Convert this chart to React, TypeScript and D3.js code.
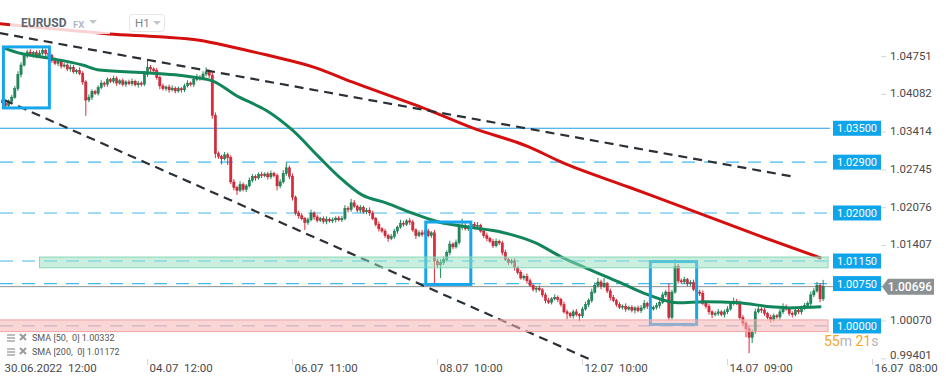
import React from 'react'
import * as d3 from 'd3'

// EURUSD H1, prices in pips above 1.0000 (450 -> 1.0450)
const firstOpen = 400
const closes = [
  395, 390, 398, 405, 420, 445, 462, 478, 485, 480, 484, 478, 483, 488, 482, 479, 470, 465, 468, 460,
  462, 455, 458, 450, 452, 447, 432, 400, 405, 415, 412, 422, 430, 428, 436, 433, 438, 430, 434, 428,
  432, 429, 433, 427, 430, 428, 445, 458, 455, 452, 440, 425, 420, 423, 418, 421, 416, 420, 418, 425,
  430, 428, 436, 440, 438, 446, 450, 444, 373, 305, 300, 296, 303, 298, 255, 245, 240, 250, 242, 248,
  258, 265, 262, 268, 266, 269, 264, 270, 266, 248, 255, 270, 280, 265, 228, 200, 195, 190, 183, 188,
  200, 193, 187, 190, 185, 189, 186, 188, 191, 188, 190, 208, 206, 218, 212, 205, 210, 202, 205, 200,
  190, 180, 172, 168, 160, 155, 158, 168, 175, 182, 180, 186, 184, 170, 160, 165, 162, 168, 160, 165,
  115, 108, 112, 118, 130, 145, 140, 148, 175, 178, 172, 176, 180, 176, 178, 168, 160, 155, 150, 142,
  150, 147, 130, 118, 112, 115, 103, 95, 85, 88, 80, 72, 65, 67, 64, 55, 45, 42, 48, 50,
  47, 38, 25, 22, 18, 25, 20, 18, 30, 38, 45, 60, 72, 78, 70, 75, 62, 50, 45, 38,
  33, 35, 30, 33, 28, 32, 27, 32, 40, 35, 30, 33, 36, 42, 55, 60, 15, 60, 105, 80,
  78, 82, 75, 77, 65, 60, 58, 40, 35, 25, 20, 22, 25, 20, 25, 30, 40, 44, 42, 15,
  5, -5, -20, -10, 25, 30, 28, 22, 15, 12, 18, 16, 25, 34, 30, 22, 20, 28, 25, 32,
  36, 40, 55, 62, 72, 48, 69.6,
]
const wickUp = [
  4, 3, 3, 4, 5, 6, 5, 6, 4, 5, 3, 4, 5, 4, 3, 4, 3, 5, 4, 3,
  4, 3, 5, 4, 3, 6, 4, 3, 5, 4, 3, 4, 5, 3, 4, 3, 5, 4, 3, 4,
  3, 4, 5, 3, 4, 3, 6, 12, 4, 3, 5, 3, 4, 3, 4, 5, 3, 4, 3, 4,
  5, 3, 4, 6, 4, 5, 8, 4, 6, 5, 4, 3, 5, 4, 4, 5, 3, 6, 4, 3,
  5, 4, 3, 4, 5, 3, 4, 5, 3, 4, 5, 6, 10, 4, 5, 3, 4, 5, 3, 4,
  6, 3, 4, 3, 4, 5, 3, 4, 3, 4, 5, 6, 4, 7, 5, 3, 4, 3, 4, 5,
  4, 3, 5, 3, 4, 3, 5, 4, 3, 6, 4, 3, 5, 4, 3, 4, 5, 3, 4, 3,
  5, 4, 6, 5, 4, 6, 3, 5, 6, 12, 4, 3, 5, 4, 6, 3, 4, 5, 3, 4,
  5, 3, 4, 5, 3, 4, 5, 3, 4, 3, 5, 4, 3, 4, 5, 3, 4, 5, 3, 6,
  4, 3, 5, 4, 3, 4, 5, 3, 4, 5, 4, 6, 5, 7, 4, 10, 3, 4, 5, 3,
  4, 3, 5, 3, 4, 3, 4, 5, 6, 3, 4, 3, 5, 4, 5, 4, 15, 4, 13, 5,
  4, 5, 3, 4, 5, 3, 4, 5, 3, 4, 3, 4, 5, 3, 4, 5, 4, 6, 4, 3,
  4, 3, 5, 4, 6, 5, 3, 4, 3, 5, 4, 3, 5, 6, 4, 3, 4, 5, 3, 4,
  5, 4, 6, 5, 6, 4, 12,
]
const wickDown = [
  4, 6, 3, 4, 3, 4, 5, 3, 4, 3, 5, 4, 3, 4, 5, 3, 4, 3, 5, 4,
  3, 4, 5, 3, 4, 3, 5, 28, 4, 5, 3, 4, 3, 5, 4, 3, 4, 5, 3, 4,
  5, 3, 4, 3, 5, 4, 3, 4, 5, 3, 4, 6, 3, 4, 5, 3, 4, 3, 5, 4,
  3, 4, 5, 3, 4, 3, 4, 5, 6, 8, 4, 10, 3, 13, 4, 5, 8, 3, 4, 5,
  3, 4, 5, 3, 4, 3, 5, 4, 3, 8, 4, 3, 4, 5, 6, 4, 5, 3, 13, 4,
  3, 5, 4, 3, 4, 5, 3, 4, 5, 3, 4, 3, 5, 4, 3, 4, 5, 3, 4, 5,
  3, 4, 5, 3, 4, 6, 3, 4, 5, 3, 4, 3, 5, 4, 6, 3, 4, 5, 3, 4,
  43, 6, 23, 4, 3, 5, 4, 3, 4, 5, 3, 4, 3, 5, 4, 3, 4, 5, 3, 4,
  3, 4, 5, 3, 4, 3, 5, 4, 3, 4, 5, 3, 4, 6, 3, 4, 5, 3, 4, 3,
  5, 4, 3, 10, 4, 5, 3, 10, 4, 3, 5, 4, 3, 4, 5, 3, 4, 5, 3, 4,
  3, 4, 5, 3, 4, 6, 3, 4, 3, 5, 4, 3, 4, 5, 3, 4, 5, 4, 3, 5,
  4, 3, 5, 4, 3, 4, 5, 3, 4, 5, 6, 3, 4, 3, 5, 4, 3, 4, 5, 4,
  6, 15, 28, 10, 4, 3, 5, 4, 3, 6, 4, 3, 5, 4, 3, 4, 5, 3, 4, 5,
  4, 3, 5, 4, 3, 6, 4,
]

// moving averages: [bar, pips]
const sma50 = [
  [0.6, 492], [5.5, 483], [15.2, 474], [25.9, 462], [31.4, 453], [47.6, 448], [57.3, 444],
  [63.8, 439], [68, 434], [76.7, 405], [79.9, 397], [85.4, 382], [93.9, 347], [102.6, 299],
  [109.1, 264], [116.5, 232], [124.3, 218], [132.7, 200], [141.4, 184], [151.1, 175],
  [161.8, 166], [172.8, 147], [181.2, 122], [189, 103], [199.7, 78], [209.4, 55], [219.1, 41],
  [227.8, 43], [238.5, 41], [249.2, 34], [254.7, 32], [265.4, 34],
]
const sma200 = [
  [-1, 535], [20.7, 524], [34.6, 517], [50.8, 512], [63.8, 506], [74.4, 494], [85.4, 480],
  [101.6, 457], [113.3, 432], [138.2, 382], [152.1, 351], [170.6, 317], [181.2, 290],
  [202.9, 246], [224.6, 202], [246, 158], [265.4, 120],
]

const dateTicks = [0, 47, 94, 141, 188, 235, 282]
const dateLabels = ['30.06.2022  12:00', '04.07  12:00', '06.07  11:00', '08.07  10:00', '12.07  10:00', '14.07  09:00', '16.07  08:00']
// 1.00738 sits under the last-price flag, so it is not listed
const priceTicks = [1.04751, 1.04082, 1.03414, 1.02745, 1.02076, 1.01407, 1.0007, 0.99401]

const levels = [1.035, 1.029, 1.02, 1.0115, 1.0075, 1.0]
const levelLabels = ['1.03500', '1.02900', '1.02000', '1.01150', '1.00750', '1.00000']
const lastPrice = 1.00696

// drawings: trend lines [bar, pips] pairs, boxes [bar0, bar1, pipsTop, pipsBottom]
const trendLines = [
  [[-1, 518.6], [257, 263.6]],
  [[0.6, 400], [191.6, -62]],
]
const boxes = [
  [0.3, 15.2, 494, 386],
  [137.2, 151.8, 184, 73.5],
  [210, 225, 114, 2.7],
]
const greenZone = [12, 267.6, 122, 103]
const redZone = [-1, 267.6, 10.7, -10]

const W = 949
const H = 385
const font = 'Roboto, sans-serif'

const pip = (v: number) => 1 + v / 10000

export default function App() {
  const x = d3.scaleLinear().domain([0, 282]).range([2.5, 872.5])
  const y = d3.scaleLinear().domain([0.99401, 1.04751]).range([359.8, 57.6])
  const yp = (v: number) => y(pip(v))

  const candles = closes.map((c, i) => {
    const o = i === 0 ? firstOpen : closes[i - 1]
    return { i, o, c, h: Math.max(o, c) + wickUp[i], l: Math.min(o, c) - wickDown[i] }
  })

  const line = d3
    .line<number[]>()
    .x((d) => x(d[0]))
    .y((d) => yp(d[1]))
    .curve(d3.curveMonotoneX)

  const zoneRect = (z: number[], fill: string, stroke: string, op: number) => (
    <rect
      x={x(z[0])}
      y={yp(z[2])}
      width={x(z[1]) - x(z[0])}
      height={yp(z[3]) - yp(z[2])}
      fill={fill}
      fillOpacity={op}
      stroke={stroke}
      strokeWidth={1}
    />
  )

  return (
    <svg width={W} height={H} style={{ position: 'absolute', left: 0, top: 0, background: '#fff' }} fontFamily={font}>
      {/* horizontal levels */}
      {levels.map((lv, k) => (
        <line
          key={'lv' + k}
          x1={0}
          x2={830}
          y1={y(lv)}
          y2={y(lv)}
          stroke={lv === 1.0 ? '#9ab3d3' : k === 0 ? '#1f9fe0' : '#45b9ef'}
          strokeWidth={1.2}
          strokeDasharray={k === 0 ? undefined : '13 9'}
        />
      ))}
      <line x1={0} x2={882} y1={y(lastPrice)} y2={y(lastPrice)} stroke="#8d9194" strokeWidth={1} />

      {/* candles */}
      {candles.map((d) => {
        const up = d.c >= d.o
        const col = up ? '#1e8c5c' : '#dd2a3b'
        const cx = x(d.i)
        const top = yp(Math.max(d.o, d.c))
        const bot = yp(Math.min(d.o, d.c))
        return (
          <g key={'c' + d.i}>
            <line x1={cx} x2={cx} y1={yp(d.h)} y2={yp(d.l)} stroke={col} strokeWidth={1} />
            <rect x={cx - 1.1} y={top} width={2.2} height={Math.max(1, bot - top)} fill={col} stroke={up ? '#166e48' : '#b51f2d'} strokeWidth={0.5} />
          </g>
        )
      })}

      {/* SMAs */}
      <path d={line(sma200) || ''} fill="none" stroke="#d50f0f" strokeWidth={3} />
      <path d={line(sma50) || ''} fill="none" stroke="#12865a" strokeWidth={3} />

      {/* trend lines */}
      {trendLines.map((t, k) => (
        <line
          key={'t' + k}
          x1={x(t[0][0])}
          y1={yp(t[0][1])}
          x2={x(t[1][0])}
          y2={yp(t[1][1])}
          stroke="#2a3036"
          strokeWidth={2.2}
          strokeDasharray="9 6"
        />
      ))}

      {/* boxes */}
      {boxes.map((b, k) => (
        <rect
          key={'b' + k}
          x={x(b[0])}
          y={yp(b[2])}
          width={x(b[1]) - x(b[0])}
          height={yp(b[3]) - yp(b[2])}
          fill="none"
          stroke="#17a6ec"
          strokeWidth={3}
        />
      ))}

      {/* zones */}
      {zoneRect(greenZone, '#95dfbf', '#86d8b5', 0.5)}
      {zoneRect(redZone, '#f5b5b5', '#f3a3a3', 0.55)}

      {/* header */}
      <rect x={10} y={13} width={100} height={21} fill="#fff" fillOpacity={0.82} />
      <text x={21} y={27} fontSize={12} fontWeight={700} fill="#5c6670">EURUSD</text>
      <text x={73} y={28} fontSize={9.5} fontWeight={700} fill="#b3b9bf">FX</text>
      <path d="M89,20 L97,20 L93,24 Z" fill="#c2c6ca" />
      <rect x={129.5} y={14.5} width={35} height={17} rx={3} fill="#fff" stroke="#e3e5e8" />
      <text x={135} y={27} fontSize={11.5} fill="#7d858c">H1</text>
      <path d="M153,21 L161,21 L157,25 Z" fill="#c2c6ca" />

      {/* price axis */}
      {priceTicks.map((p) => (
        <g key={'p' + p}>
          <line x1={881} x2={886} y1={y(p) - 1} y2={y(p) - 1} stroke="#d6d6d6" />
          <text x={890} y={Math.min(y(p) - 2, 355)} dominantBaseline="central" fontSize={11.5} fill="#4a4a4a">
            {p.toFixed(5)}
          </text>
        </g>
      ))}
      {levels.map((lv, k) => (
        <g key={'ll' + k}>
          <rect x={833} y={y(lv) - 7.5} width={48} height={15} fill="#0fa5ea" />
          <text x={857} y={y(lv) + 0.5} textAnchor="middle" dominantBaseline="central" fontSize={11} fill="#fff">
            {levelLabels[k]}
          </text>
        </g>
      ))}
      <path
        d={`M882,${y(lastPrice)} L888,${y(lastPrice) - 8} L934,${y(lastPrice) - 8} L934,${y(lastPrice) + 8} L888,${y(lastPrice) + 8} Z`}
        fill="#8b9093"
      />
      <text x={910} y={y(lastPrice) + 0.5} textAnchor="middle" dominantBaseline="central" fontSize={12} fontWeight={500} fill="#fff">
        {lastPrice.toFixed(5)}
      </text>

      {/* countdown */}
      <text x={824} y={346} fontSize={14}>
        <tspan fill="#f6a623">55</tspan>
        <tspan fill="#b5b5b5">m </tspan>
        <tspan fill="#f6a623">21</tspan>
        <tspan fill="#b5b5b5">s</tspan>
      </text>

      {/* legend */}
      {['SMA [50,  0] 1.00332', 'SMA [200,  0] 1.01172'].map((s, k) => (
        <g key={'lg' + k} transform={`translate(0,${338 + k * 14})`}>
          <line x1={7} x2={15} y1={-3} y2={-3} stroke="#9a9a9a" strokeWidth={1.3} />
          <line x1={7} x2={15} y1={0} y2={0} stroke="#9a9a9a" strokeWidth={1.3} />
          <line x1={7} x2={15} y1={3} y2={3} stroke="#9a9a9a" strokeWidth={1.3} />
          <path d="M20,-4 L26,2 M26,-4 L20,2" stroke="#9a9a9a" strokeWidth={2} />
          <text x={32} y={0} dominantBaseline="central" fontSize={9} fill="#555" style={{ whiteSpace: 'pre' }}>
            {s}
          </text>
        </g>
      ))}

      {/* time axis */}
      {dateTicks.map((t, k) => (
        <g key={'d' + t}>
          {k > 0 && <line x1={x(t)} x2={x(t)} y1={359} y2={365} stroke="#d6d6d6" />}
          <text x={x(t) + 2} y={372} fontSize={11.5} fill="#4a4a4a" style={{ whiteSpace: 'pre' }}>
            {dateLabels[k]}
          </text>
        </g>
      ))}
    </svg>
  )
}
